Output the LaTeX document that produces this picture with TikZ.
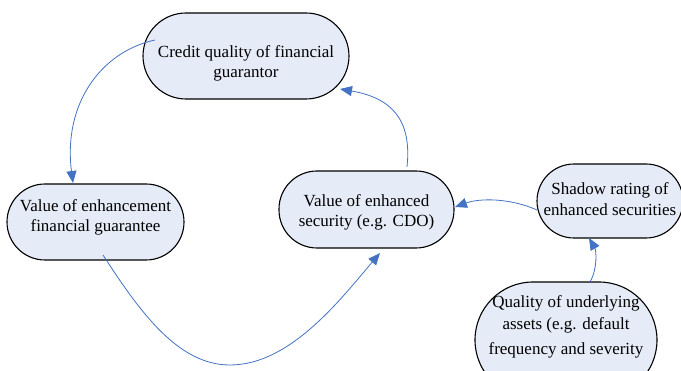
\documentclass[tikz,border=0pt]{standalone}
\usepackage{fontspec}
\setmainfont{Liberation Serif}
\usetikzlibrary{arrows.meta}
\definecolor{boxfill}{HTML}{E6ECF7}
\definecolor{linkblue}{HTML}{4472C4}
\begin{document}
\begin{tikzpicture}[x=1pt,y=-1pt,
  pill/.style={draw=black,line width=1.1pt,fill=boxfill,inner sep=0pt},
  txt/.style={align=center,font=\fontsize{17}{20}\selectfont,text=black},
  link/.style={draw=linkblue,line width=0.8pt,-{Triangle[length=12pt,width=10pt]}}]
\useasboundingbox (0,0) rectangle (681,371);
\begin{scope}
\clip (0,0) rectangle (681,371);
% boxes
\node[pill,minimum width=206pt,minimum height=86pt,rounded corners=43pt,
  label={[txt,yshift=-7pt]center:Credit quality of financial\\guarantor}] (cq) at (246,56) {};
\node[pill,minimum width=177pt,minimum height=76pt,rounded corners=38pt,
  label={[txt,yshift=4.5pt]center:Value of enhancement\\financial guarantee}] (veg) at (95.5,222) {};
\node[pill,minimum width=175pt,minimum height=77pt,rounded corners=38pt,
  label={[txt,yshift=-3pt]center:Value of enhanced\\security (e.g. CDO)}] (ves) at (366.5,209.5) {};
\node[pill,minimum width=146pt,minimum height=74pt,rounded corners=37pt,
  label={[txt,yshift=1.5pt,font=\fontsize{17}{21}\selectfont]center:Shadow rating of\\enhanced securities}] (sr) at (610,201) {};
\node[pill,minimum width=182pt,minimum height=116pt,rounded corners=58pt,
  label={[txt,yshift=13.5pt]center:Quality of underlying\\[2pt]assets (e.g. default\\[5pt]frequency and severity}] (qa) at (566,340) {};
% influence links
\draw[link] ([shift={(-91,-16)}]cq.center) .. controls (100,52) and (63,105) .. ([shift={(-22.5,-39)}]veg.center);
\draw[link] ([shift={(40.5,-42.5)}]ves.center) .. controls (412,120) and (392,98) .. ([shift={(94,33)}]cq.center);
\draw[link] ([shift={(-73,9)}]sr.center) .. controls (510,198) and (480,198) .. ([shift={(88.5,-2.5)}]ves.center);
\draw[link] ([shift={(24,-58)}]qa.center) .. controls (598,268) and (596,250) .. ([shift={(-21,37)}]sr.center);
\draw[link] ([shift={(7.5,33)}]veg.center) .. controls (140,312) and (178,365) .. (230,365)
  .. controls (290,365) and (340,300) .. ([shift={(13.5,43.5)}]ves.center);
\end{scope}
\end{tikzpicture}
\end{document}
